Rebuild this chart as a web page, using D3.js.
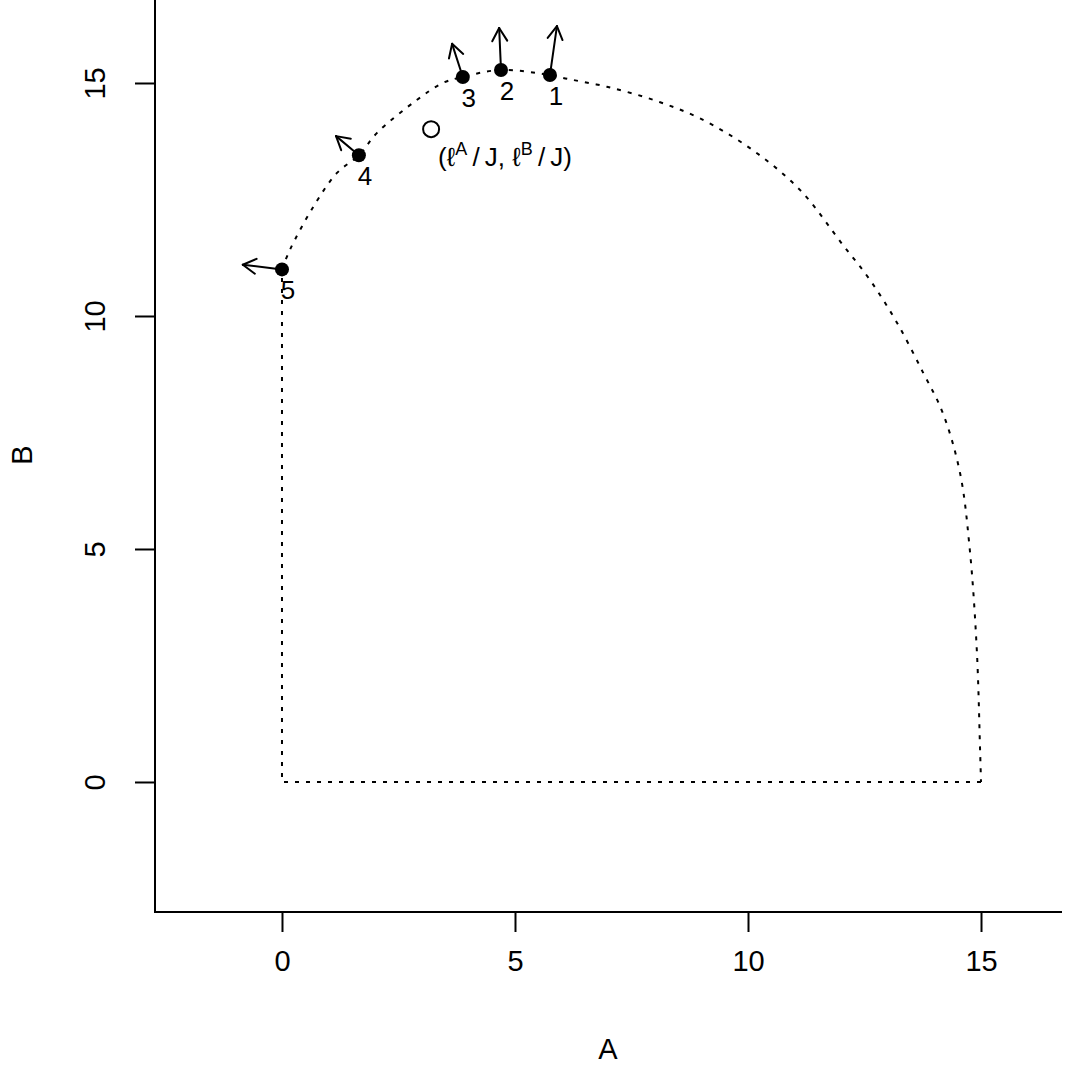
<!DOCTYPE html>
<meta charset="utf-8">
<style>
    body { margin: 0; background: #fff; }
    svg text { font-family: "Liberation Sans", Arial, sans-serif; fill: #000; }
    .frontier { fill: none; stroke: #000; stroke-width: 2px; stroke-dasharray: 4 7; }
    .arrow line { stroke: #000; stroke-width: 2px; stroke-linecap: round; }
</style>
<svg width="1068" height="1068"></svg>
<script src="https://d3js.org/d3.v7.min.js"></script>
<script>

    // curved part of the frontier (A, B), from (0, 11) round to (15, 0)
    var frontA = [0, 0.17, 0.67, 1.18, 1.65, 2.04, 2.90, 3.45, 3.88, 4.70, 5.75, 6.12, 6.97, 7.96, 8.97,
                  10.1, 11.12, 12.04, 12.62, 13.20, 13.76, 14.18, 14.55, 14.76, 14.91, 14.98, 15];
    var frontB = [11.0, 11.42, 12.34, 13.07, 13.45, 13.93, 14.64, 15.0, 15.13, 15.28, 15.17, 15.09, 14.92, 14.64, 14.24,
                  13.56, 12.70, 11.52, 10.77, 9.85, 8.78, 7.92, 6.63, 4.98, 2.83, 0.69, 0];
    // straight part: (15,0) -> (0,0) -> (0,11)
    var edgeA = [15, 0, 0];
    var edgeB = [0, 0, 11.0];

    // labelled points and arrow ends
    var ptLabels = ["1", "2", "3", "4", "5"];
    var ptA = [5.75, 4.70, 3.88, 1.65, 0.0];
    var ptB = [15.17, 15.28, 15.13, 13.45, 11.0];
    var arrowA = [5.90, 4.66, 3.65, 1.16, -0.84];
    var arrowB = [16.22, 16.18, 15.84, 13.86, 11.10];

    // open point (l^A/J, l^B/J)
    var openA = 3.2, openB = 14.01;

    var xTicks = [0, 5, 10, 15];
    var yTicks = [0, 5, 10, 15];

    var svg = d3.select("svg");

    var x = d3.scaleLinear().domain([-2.725, 16.738]).range([155, 1062]);
    var y = d3.scaleLinear().domain([-2.790, 16.781]).range([912, 0]);

    // axes
    var xAxis = svg.append("g")
            .attr("transform", "translate(0,912)")
            .call(d3.axisBottom(x).tickValues(xTicks).tickSize(20).tickPadding(18).tickFormat(d3.format("d")));
    xAxis.select(".domain").remove();
    xAxis.selectAll("line").attr("stroke", "#000").attr("stroke-width", 2);
    xAxis.selectAll("text").attr("font-size", 29).attr("font-family", null);

    var yAxis = svg.append("g")
            .attr("transform", "translate(155,0)")
            .call(d3.axisLeft(y).tickValues(yTicks).tickSize(20).tickFormat(d3.format("d")));
    yAxis.select(".domain").remove();
    yAxis.selectAll("line").attr("stroke", "#000").attr("stroke-width", 2);
    yAxis.selectAll("text")
            .attr("font-size", 29).attr("font-family", null)
            .attr("x", null)
            .attr("text-anchor", "middle")
            .attr("transform", "translate(-60,0) rotate(-90)")
            .attr("dy", "0.35em");

    // L-shaped box
    svg.append("path")
            .attr("d", "M155,0V912H1062")
            .attr("fill", "none").attr("stroke", "#000").attr("stroke-width", 2);

    svg.append("text").attr("x", 608).attr("y", 1059)
            .attr("text-anchor", "middle").attr("font-size", 29).text("A");
    svg.append("text").attr("transform", "translate(32,455) rotate(-90)")
            .attr("text-anchor", "middle").attr("font-size", 29).text("B");

    // frontier
    var curve = d3.line()
            .x(function(d) { return x(d[0]); })
            .y(function(d) { return y(d[1]); })
            .curve(d3.curveCatmullRom.alpha(0.5));
    var straight = d3.line()
            .x(function(d) { return x(d[0]); })
            .y(function(d) { return y(d[1]); });
    svg.append("path")
            .attr("class", "frontier")
            .attr("d", curve(d3.zip(frontA, frontB)));
    svg.append("path")
            .attr("class", "frontier")
            .attr("d", straight(d3.zip(edgeA, edgeB)));

    // arrows
    var pts = d3.range(ptA.length).map(function(i) {
        return { a: ptA[i], b: ptB[i], ea: arrowA[i], eb: arrowB[i], label: ptLabels[i] };
    });

    var arrows = svg.append("g").attr("class", "arrow")
            .selectAll("g").data(pts).enter().append("g");

    arrows.append("line")
            .attr("x1", function(d) { return x(d.a); })
            .attr("y1", function(d) { return y(d.b); })
            .attr("x2", function(d) { return x(d.ea); })
            .attr("y2", function(d) { return y(d.eb); });

    var headLen = 15, headAng = Math.PI / 6;
    [-1, 1].forEach(function(s) {
        arrows.append("line")
                .attr("x1", function(d) { return x(d.ea); })
                .attr("y1", function(d) { return y(d.eb); })
                .attr("x2", function(d) {
                    var ang = Math.atan2(y(d.b) - y(d.eb), x(d.a) - x(d.ea));
                    return x(d.ea) + headLen * Math.cos(ang + s * headAng);
                })
                .attr("y2", function(d) {
                    var ang = Math.atan2(y(d.b) - y(d.eb), x(d.a) - x(d.ea));
                    return y(d.eb) + headLen * Math.sin(ang + s * headAng);
                });
    });

    svg.append("g").selectAll("circle").data(pts).enter().append("circle")
            .attr("cx", function(d) { return x(d.a); })
            .attr("cy", function(d) { return y(d.b); })
            .attr("r", 7)
            .attr("fill", "#000");

    svg.append("g").selectAll("text").data(pts).enter().append("text")
            .attr("x", function(d) { return x(d.a) + 6; })
            .attr("y", function(d) { return y(d.b) + 30; })
            .attr("text-anchor", "middle")
            .attr("font-size", 26)
            .text(function(d) { return d.label; });

    // open circle and its label
    svg.append("circle")
            .attr("cx", x(openA)).attr("cy", y(openB))
            .attr("r", 8)
            .attr("fill", "none").attr("stroke", "#000").attr("stroke-width", 2);

    var lab = svg.append("text")
            .attr("x", x(openA) + 7).attr("y", y(openB) + 37)
            .attr("font-size", 26);
    lab.append("tspan").text("(\u2113");
    lab.append("tspan").attr("dy", -11).attr("font-size", 18).text("A");
    lab.append("tspan").attr("dy", 11).text("\u2009/\u2009J, \u2113");
    lab.append("tspan").attr("dy", -11).attr("font-size", 18).text("B");
    lab.append("tspan").attr("dy", 11).text("\u2009/\u2009J)");

</script>
